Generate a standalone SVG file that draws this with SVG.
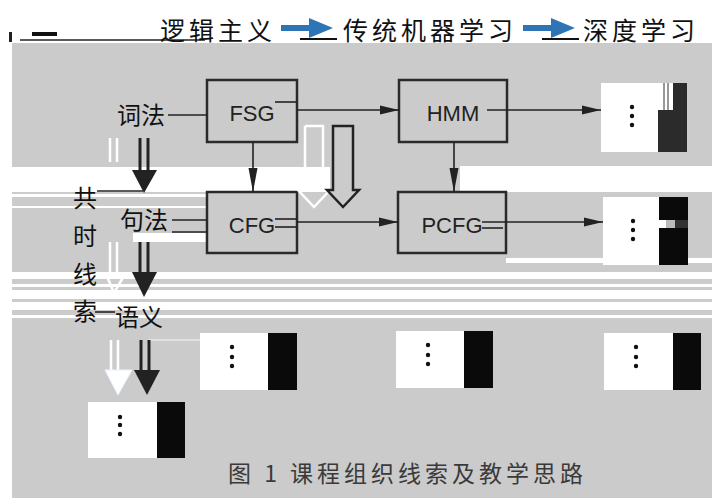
<svg xmlns="http://www.w3.org/2000/svg" width="712" height="498" viewBox="0 0 712 498">
<defs>
<style>
.bg{fill:#cbcbcb}
.wb{fill:#ffffff}
.box{fill:none;stroke:#2a2a2a;stroke-width:2.5}
.lbl{font-family:"Liberation Sans","Noto Sans",sans-serif;font-size:22px;fill:#222;text-anchor:middle}
.cn{font-family:"Noto Sans CJK SC",sans-serif;font-size:24px;fill:#111}
.title{font-family:"Noto Sans CJK SC",sans-serif;font-size:25px;fill:#111;letter-spacing:4px}
.cap{font-family:"Noto Sans CJK SC",sans-serif;font-size:23px;fill:#3a3a3a;letter-spacing:4px}
.ln{stroke:#222;stroke-width:1.6;fill:none}
.dbl{stroke:#222;stroke-width:3}
.head{fill:#222}
.ghost{stroke:#ffffff;stroke-width:2.5;fill:none}
.ow{fill:#ffffff}
.ob{fill:#0a0a0a}
.dot{fill:#111}
.blue{fill:#2e75b6}
</style>
<marker id="ah" markerUnits="userSpaceOnUse" markerWidth="20" markerHeight="10" refX="19" refY="5" orient="auto"><path d="M0,0.5 L19,5 L0,9.5 z" fill="#222"/></marker>
<marker id="ahv" markerUnits="userSpaceOnUse" markerWidth="24" markerHeight="10" refX="24" refY="5" orient="auto"><path d="M0,0.5 L24,5 L0,9.5 z" fill="#222"/></marker>
</defs>

<rect x="0" y="0" width="712" height="498" fill="#ffffff"/>
<rect class="bg" x="12" y="43" width="700" height="455"/>

<!-- white bands -->
<g id="bands">
<rect class="wb" x="12" y="167" width="318" height="25"/>
<rect class="wb" x="460" y="166" width="252" height="26"/>
<rect class="wb" x="12" y="194" width="195" height="3"/>
<rect class="wb" x="12" y="206" width="195" height="2"/>
<rect class="wb" x="133" y="233" width="74" height="9"/>
<rect class="wb" x="12" y="272" width="700" height="7"/>
<rect class="wb" x="12" y="284" width="700" height="3"/>
<rect class="wb" x="12" y="290" width="700" height="9"/>
<rect class="wb" x="12" y="302" width="700" height="8"/>
<rect class="wb" x="12" y="315" width="700" height="3"/>
<rect class="wb" x="506" y="258" width="206" height="5"/>
</g>

<!-- title -->
<g id="title">
<rect x="9" y="32" width="3" height="10" fill="#222"/>
<rect x="32" y="32" width="25" height="4" fill="#111"/>
<line x1="20" y1="40" x2="205" y2="40" stroke="#222" stroke-width="1.5"/>
<text class="title" x="160" y="40">逻辑主义</text>
<line x1="300" y1="39" x2="337" y2="39" stroke="#111" stroke-width="2"/>
<polygon class="blue" points="281,25 309,25 309,18 333,28 309,38 309,31 281,31"/>
<text class="title" x="343" y="40">传统机器学习</text>
<line x1="542" y1="39" x2="579" y2="39" stroke="#111" stroke-width="2"/>
<polygon class="blue" points="523,25 551,25 551,18 575,28 551,38 551,31 523,31"/>
<text class="title" x="583" y="40">深度学习</text>
</g>

<!-- nodes -->
<g id="fsg"><rect class="box" x="207" y="80" width="90" height="62"/><text class="lbl" x="252" y="121">FSG</text></g>
<g id="hmm"><rect class="box" x="399" y="80" width="108" height="62"/><text class="lbl" x="453" y="121">HMM</text></g>
<g id="cfg"><rect class="box" x="207" y="192" width="90" height="61"/><text class="lbl" x="252" y="233">CFG</text></g>
<g id="pcfg"><rect class="box" x="398" y="192" width="108" height="61"/><text class="lbl" x="452" y="233">PCFG</text></g>

<g id="lexical"><text class="cn" x="117" y="124">词法</text></g>
<g id="syntax"><text class="cn" x="120" y="229">句法</text></g>
<g id="semantics"><text class="cn" x="115" y="326">语义</text></g>
<g id="clue">
<text class="cn" x="73" y="207">共</text>
<text class="cn" x="73" y="245">时</text>
<text class="cn" x="73" y="283">线</text>
<text class="cn" x="73" y="320">索</text>
</g>

<g id="out-hmm">
<rect class="ow" x="601" y="83" width="57" height="69"/>
<rect x="658" y="110" width="29" height="42" fill="#2b2b2b"/>
<rect x="673" y="83" width="14" height="27" fill="#2b2b2b"/>
<rect x="658" y="83" width="15" height="27" fill="#ffffff"/>
<line x1="664" y1="83" x2="664" y2="110" stroke="#333" stroke-width="1"/>
<line x1="668" y1="83" x2="668" y2="110" stroke="#333" stroke-width="1"/>
<circle class="dot" cx="632" cy="107" r="2.2"/><circle class="dot" cx="632" cy="116" r="2.2"/><circle class="dot" cx="632" cy="125" r="2.2"/>
</g>
<g id="out-pcfg">
<rect class="ow" x="603" y="197" width="56" height="68"/>
<rect class="ob" x="659" y="197" width="29" height="68"/>
<rect x="659" y="220" width="7" height="8" fill="#ffffff"/>
<rect x="666" y="220" width="9" height="8" fill="#bbbbbb"/>
<rect x="675" y="220" width="13" height="8" fill="#333333"/>
<circle class="dot" cx="633" cy="221" r="2.2"/><circle class="dot" cx="633" cy="230" r="2.2"/><circle class="dot" cx="633" cy="239" r="2.2"/>
</g>
<g id="out-sem">
<rect class="ow" x="88" y="402" width="69" height="56"/>
<rect class="ob" x="157" y="402" width="28" height="56"/>
<circle class="dot" cx="120" cy="417" r="2.2"/><circle class="dot" cx="120" cy="425" r="2.2"/><circle class="dot" cx="120" cy="434" r="2.2"/>
</g>
<g id="out-logic">
<rect class="ow" x="200" y="333" width="68" height="57"/>
<rect class="ob" x="268" y="333" width="29" height="57"/>
<circle class="dot" cx="232" cy="347" r="2.2"/><circle class="dot" cx="232" cy="357" r="2.2"/><circle class="dot" cx="232" cy="366" r="2.2"/>
</g>
<g id="out-ml">
<rect class="ow" x="396" y="331" width="68" height="57"/>
<rect class="ob" x="464" y="331" width="29" height="57"/>
<circle class="dot" cx="428" cy="345" r="2.2"/><circle class="dot" cx="428" cy="355" r="2.2"/><circle class="dot" cx="428" cy="364" r="2.2"/>
</g>
<g id="out-dl">
<rect class="ow" x="604" y="333" width="69" height="57"/>
<rect class="ob" x="673" y="333" width="28" height="57"/>
<circle class="dot" cx="636" cy="347" r="2.2"/><circle class="dot" cx="636" cy="357" r="2.2"/><circle class="dot" cx="636" cy="366" r="2.2"/>
</g>

<g id="caption"><text class="cap" x="228" y="482">图 1 课程组织线索及教学思路</text></g>

<!-- connectors -->
<g id="connectors">
<line class="ln" x1="168" y1="115" x2="207" y2="115"/>
<line class="ln" x1="172" y1="220" x2="207" y2="220"/>
<line class="ln" x1="172" y1="232" x2="207" y2="232"/>
<line class="ln" x1="97" y1="191" x2="143" y2="191"/>
<line class="ln" x1="95" y1="312" x2="115" y2="312"/>

<line class="ln" x1="297" y1="110" x2="399" y2="110" marker-end="url(#ah)"/>
<line class="ln" x1="487" y1="110" x2="601" y2="110" marker-end="url(#ah)"/>
<line class="ln" x1="297" y1="222" x2="398" y2="222" marker-end="url(#ah)"/>
<line class="ln" x1="482" y1="222" x2="603" y2="222" marker-end="url(#ah)"/>
<line class="ln" x1="275" y1="102" x2="297" y2="102"/>
<line class="ln" x1="275" y1="219" x2="297" y2="219"/>
<line class="ln" x1="275" y1="227" x2="297" y2="227"/>
<line class="ln" x1="482" y1="228" x2="503" y2="228"/>

<line class="ln" x1="253" y1="142" x2="253" y2="192" marker-end="url(#ahv)"/>
<line class="ln" x1="454" y1="142" x2="454" y2="192" marker-end="url(#ahv)"/>

<polyline class="ghost" points="305,126 323,126 323,190 330,190 314,207 298,190 305,190 305,126"/>
<polygon points="333,126 353,126 353,190 359,190 343,207 327,190 333,190" fill="none" stroke="#222" stroke-width="2.5"/>

<line class="ghost" x1="110" y1="138" x2="110" y2="162"/>
<line class="ghost" x1="117" y1="138" x2="117" y2="162"/>
<line class="dbl" x1="140" y1="138" x2="140" y2="172"/>
<line class="dbl" x1="148" y1="138" x2="148" y2="172"/>
<polygon class="head" points="132,170 157,170 144,193"/>

<line class="ghost" x1="110" y1="242" x2="110" y2="275"/>
<line class="ghost" x1="117" y1="242" x2="117" y2="275"/>
<polyline class="ghost" points="106,274 125,274 114,293 106,274"/>
<line class="dbl" x1="140" y1="242" x2="140" y2="274"/>
<line class="dbl" x1="148" y1="242" x2="148" y2="274"/>
<polygon class="head" points="132,272 157,272 144,297"/>

<line class="ghost" x1="111" y1="340" x2="111" y2="372"/>
<line class="ghost" x1="118" y1="340" x2="118" y2="372"/>
<polygon points="105,370 132,370 118,395" fill="#ffffff" stroke="#eaf4ff" stroke-width="1"/>
<line x1="148" y1="340" x2="200" y2="340" stroke="#e8e8e8" stroke-width="1.5"/>
<line class="dbl" x1="141" y1="340" x2="141" y2="372"/>
<line class="dbl" x1="149" y1="340" x2="149" y2="372"/>
<polygon class="head" points="134,370 160,370 147,395"/>
</g>
</svg>
